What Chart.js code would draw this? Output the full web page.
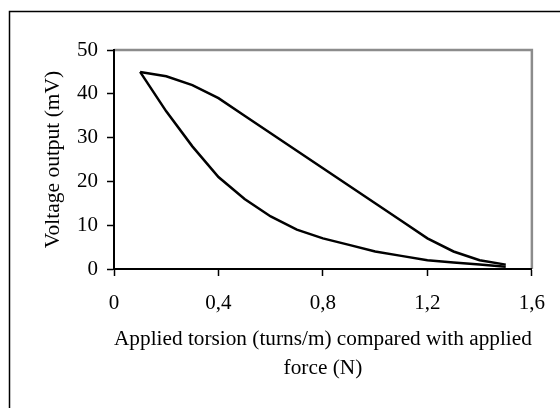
<!DOCTYPE html>
<html lang="en">
<head>
    <meta charset="UTF-8">
    <title>Voltage output vs applied torsion</title>
    <script src="https://cdn.jsdelivr.net/npm/chart.js"></script>
    <style>
        body { margin: 0; background: #fff; }
    </style>
</head>
<body>
    <canvas id="torsionChart" width="560" height="408"></canvas>

    <script>
        // torsion (turns/m) and voltage output (mV)
        const torsion = [0.1, 0.2, 0.3, 0.4, 0.5, 0.6, 0.7, 0.8, 0.9, 1.0, 1.1, 1.2, 1.3, 1.4, 1.5];
        const upperVoltage = [45, 44, 42, 39, 35, 31, 27, 23, 19, 15, 11, 7, 4, 2, 1];
        const lowerVoltage = [45, 36, 28, 21, 16, 12, 9, 7, 5.5, 4, 3, 2, 1.5, 1, 0.5];
        const xTicks = [0, 0.4, 0.8, 1.2, 1.6];
        const yTicks = [0, 10, 20, 30, 40, 50];

        const toPoints = ys => torsion.map((x, i) => ({ x: x, y: ys[i] }));
        const serif = 'Liberation Serif, Times New Roman, serif';

        // outer frame + grey top/right edge of the plot area
        const framePlugin = {
            id: 'frame',
            beforeDraw(chart) {
                const c = chart.ctx;
                const a = chart.chartArea;
                c.save();
                c.strokeStyle = '#000';
                c.lineWidth = 1.5;
                c.beginPath();
                c.moveTo(9.5, 408);
                c.lineTo(9.5, 11.5);
                c.lineTo(560, 11.5);
                c.stroke();

                c.strokeStyle = '#8c8c8c';
                c.lineWidth = 2.5;
                c.beginPath();
                c.moveTo(a.left, a.top);
                c.lineTo(a.right, a.top);
                c.lineTo(a.right, a.bottom);
                c.stroke();
                c.restore();
            }
        };

        Chart.defaults.font.family = serif;
        Chart.defaults.color = '#000';

        const chart = new Chart(document.getElementById('torsionChart'), {
            type: 'scatter',
            data: {
                datasets: [{
                    label: 'Upper',
                    data: toPoints(upperVoltage),
                    showLine: true,
                    borderColor: '#000',
                    borderWidth: 2.5,
                    pointRadius: 0,
                    tension: 0
                }, {
                    label: 'Lower',
                    data: toPoints(lowerVoltage),
                    showLine: true,
                    borderColor: '#000',
                    borderWidth: 2.5,
                    pointRadius: 0,
                    tension: 0
                }]
            },
            options: {
                responsive: false,
                animation: false,
                layout: { padding: { top: 50, right: 24, left: 0, bottom: 0 } },
                plugins: {
                    legend: { display: false },
                    tooltip: { enabled: false }
                },
                scales: {
                    x: {
                        type: 'linear',
                        min: 0,
                        max: 1.6,
                        afterFit: s => { s.height = 139; },
                        afterBuildTicks: s => { s.ticks = xTicks.map(v => ({ value: v })); },
                        border: { display: true, color: '#000', width: 2 },
                        grid: { drawOnChartArea: false, drawTicks: true, tickLength: 7, tickColor: '#000', tickWidth: 1.5 },
                        ticks: {
                            padding: 15,
                            font: { size: 21 },
                            callback: v => v === 0 ? '0' : v.toFixed(1).replace('.', ',')
                        },
                        title: {
                            display: true,
                            text: ['Applied torsion (turns/m) compared with applied', 'force (N)'],
                            font: { size: 21.3, lineHeight: 1.32 },
                            padding: { top: 0, bottom: 26 }
                        }
                    },
                    y: {
                        min: 0,
                        max: 50,
                        afterFit: s => { s.width = 114; },
                        afterBuildTicks: s => { s.ticks = yTicks.map(v => ({ value: v })); },
                        border: { display: true, color: '#000', width: 2 },
                        grid: { drawOnChartArea: false, drawTicks: true, tickLength: 7, tickColor: '#000', tickWidth: 1.5 },
                        ticks: {
                            padding: 9,
                            font: { size: 21 }
                        },
                        title: {
                            display: true,
                            text: 'Voltage output (mV)',
                            font: { size: 21.5, lineHeight: 1.2 },
                            padding: { top: 40, bottom: 0 }
                        }
                    }
                }
            },
            plugins: [framePlugin]
        });
    </script>
</body>
</html>
